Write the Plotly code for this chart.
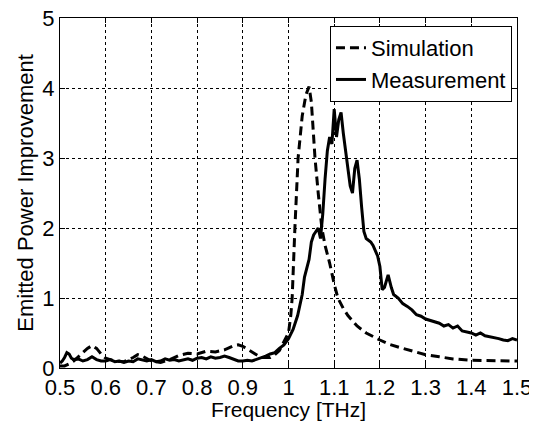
import plotly.graph_objects as go

sim_f = [0.5,0.51,0.52,0.53,0.54,0.55,0.56,0.57,0.58,0.59,0.6,0.62,0.64,0.66,0.67,0.68,0.7,0.72,0.74,0.76,0.78,0.8,0.82,0.84,0.86,0.88,0.89,0.9,0.92,0.94,0.96,0.97,0.98,0.99,1.0,1.005,1.008,1.014,1.021,1.03,1.038,1.045,1.05,1.054,1.058,1.065,1.073,1.08,1.09,1.1,1.108,1.12,1.13,1.15,1.17,1.2,1.22,1.25,1.28,1.3,1.33,1.36,1.4,1.45,1.5]
sim_v = [0.03,0.03,0.06,0.1,0.16,0.22,0.28,0.32,0.28,0.2,0.14,0.1,0.09,0.15,0.19,0.17,0.1,0.08,0.12,0.18,0.21,0.2,0.24,0.23,0.26,0.32,0.33,0.31,0.23,0.15,0.15,0.19,0.25,0.38,0.5,0.75,1.0,2.0,3.0,3.6,3.9,4.02,3.8,3.4,3.0,2.5,2.0,1.75,1.5,1.2,1.0,0.85,0.75,0.6,0.5,0.4,0.34,0.28,0.22,0.19,0.16,0.13,0.11,0.1,0.1]

meas_f = [0.5,0.505,0.51,0.515,0.52,0.525,0.53,0.54,0.55,0.56,0.57,0.58,0.59,0.6,0.61,0.62,0.63,0.64,0.65,0.66,0.67,0.68,0.69,0.7,0.71,0.72,0.73,0.74,0.75,0.76,0.77,0.78,0.79,0.8,0.81,0.82,0.83,0.84,0.85,0.86,0.87,0.88,0.89,0.9,0.91,0.92,0.93,0.94,0.95,0.96,0.97,0.98,0.99,1.0,1.01,1.02,1.025,1.03,1.035,1.04,1.045,1.05,1.055,1.06,1.065,1.07,1.075,1.08,1.085,1.09,1.095,1.1,1.105,1.11,1.115,1.12,1.125,1.13,1.135,1.14,1.145,1.15,1.155,1.16,1.165,1.17,1.18,1.185,1.19,1.195,1.2,1.205,1.21,1.218,1.225,1.23,1.24,1.25,1.26,1.27,1.28,1.29,1.3,1.31,1.32,1.33,1.34,1.35,1.36,1.37,1.38,1.39,1.4,1.41,1.42,1.43,1.44,1.45,1.46,1.47,1.48,1.49,1.5]
meas_v = [0.07,0.1,0.15,0.22,0.2,0.14,0.12,0.13,0.1,0.12,0.16,0.12,0.1,0.1,0.12,0.09,0.1,0.08,0.1,0.09,0.13,0.12,0.1,0.12,0.09,0.1,0.13,0.11,0.12,0.1,0.12,0.13,0.11,0.14,0.15,0.13,0.16,0.14,0.15,0.17,0.15,0.12,0.1,0.1,0.11,0.1,0.12,0.15,0.17,0.2,0.22,0.28,0.33,0.42,0.55,0.75,0.88,1.05,1.3,1.45,1.55,1.8,1.9,1.95,2.0,1.85,2.2,2.7,3.1,3.3,3.2,3.7,3.3,3.55,3.65,3.35,3.1,2.9,2.6,2.5,2.85,2.97,2.7,2.3,1.95,1.85,1.8,1.75,1.68,1.6,1.45,1.12,1.15,1.33,1.15,1.05,1.0,0.92,0.88,0.83,0.76,0.74,0.7,0.68,0.66,0.64,0.6,0.62,0.57,0.6,0.53,0.52,0.5,0.47,0.5,0.46,0.45,0.44,0.42,0.4,0.39,0.42,0.4]

x_ticks = [0.5,0.6,0.7,0.8,0.9,1.0,1.1,1.2,1.3,1.4,1.5]
x_labels = ["0.5","0.6","0.7","0.8","0.9","1","1.1","1.2","1.3","1.4","1.5"]
y_ticks = [0,1,2,3,4,5]

fig = go.Figure()
fig.add_trace(go.Scatter(x=sim_f, y=sim_v, mode="lines", name="Simulation",
                         line=dict(color="black", width=3, dash="9px,5px")))
fig.add_trace(go.Scatter(x=meas_f, y=meas_v, mode="lines", name="Measurement",
                         line=dict(color="black", width=3)))

FAM = "Liberation Sans, Arial"
font = dict(family=FAM, size=22, color="black")
axcommon = dict(showline=True, linecolor="black", linewidth=1, mirror="ticks",
                ticks="inside", ticklen=5, tickcolor="black",
                showgrid=True, gridcolor="black", gridwidth=1, griddash="dot",
                zeroline=False, tickfont=font, automargin=False,
                ticklabeloverflow="allow")
fig.update_xaxes(range=[0.5, 1.5], tickvals=x_ticks, ticktext=x_labels,
                 title=dict(text="Frequency [THz]", font=dict(family=FAM, size=21, color="black"), standoff=0),
                 **axcommon)
fig.update_yaxes(range=[0, 5], tickvals=y_ticks,
                 title=dict(text="Emitted Power Improvement", font=font, standoff=2), **axcommon)

# the page body keeps an 8px default margin, so the figure is 8px smaller
fig.update_layout(
    width=529, height=413,
    margin=dict(l=52, r=20, t=10, b=53),
    paper_bgcolor="white", plot_bgcolor="white",
    font=font,
    legend=dict(x=0.989, y=0.977, xanchor="right", yanchor="top",
                bordercolor="black", borderwidth=1, bgcolor="white",
                font=font, tracegroupgap=0, itemwidth=30),
    showlegend=True,
)
fig.write_html("out.html")
